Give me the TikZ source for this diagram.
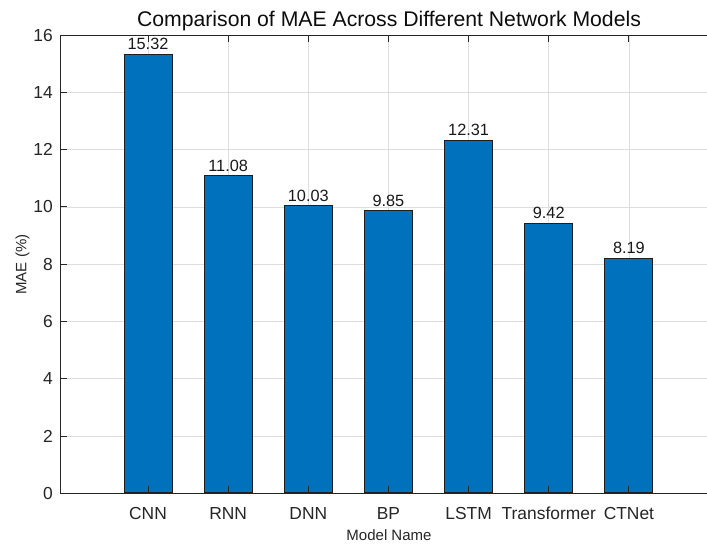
\documentclass[tikz,border=0pt]{standalone}
\usepackage{fontspec}
\setmainfont{Liberation Sans}
\definecolor{barblue}{HTML}{0072BD}
\definecolor{axisgray}{HTML}{262626}
\definecolor{gridgray}{HTML}{DEDEDE}
\tikzset{
  barbox/.style={draw=axisgray!80!black, line width=0.9pt, fill=barblue, minimum width=48pt, inner sep=0pt, anchor=south},
  gridline/.style={draw=gridgray, line width=0.8pt},
  axisline/.style={draw=axisgray, line width=0.9pt},
  ticklabel/.style={text=axisgray, font=\fontsize{17.4}{19}\selectfont, inner sep=0pt},
  valuelabel/.style={text=black!90, font=\fontsize{16.3}{18}\selectfont, inner sep=0pt, anchor=base},
  axlabel/.style={text=axisgray, font=\fontsize{15}{17}\selectfont, inner sep=0pt, anchor=base},
  titlelabel/.style={text=black!95, font=\fontsize{21.2}{23}\selectfont, inner sep=0pt, anchor=base}
}
\begin{document}
\begin{tikzpicture}[x=1pt, y=-1pt]
  \useasboundingbox (0,0) rectangle (707,544);
  \fill[white] (0,0) rectangle (707,544);
  % plot area: x from 60 to 707, y from 35 (16) to 493.3 (0)
  \def\yzero{493.3}
  \def\yunit{28.64}
  % horizontal grid
  \foreach \v in {2,4,...,14} {
    \draw[gridline] (60,\yzero-\v*\yunit) -- (707,\yzero-\v*\yunit);
  }
  % vertical grid at the categories
  \foreach \i in {0,...,6} {
    \draw[gridline] (148+80.15*\i,35) -- (148+80.15*\i,\yzero);
  }
  % bars, value labels and category labels
  \foreach \i/\nm/\v in {0/CNN/15.32, 1/RNN/11.08, 2/DNN/10.03, 3/BP/9.85, 4/LSTM/12.31, 5/Transformer/9.42, 6/CTNet/8.19} {
    \node[barbox, minimum height=\v*\yunit pt] (bar\i) at (148+80.15*\i,\yzero) {};
    \node[valuelabel] (val\i) at ([yshift=4pt]bar\i.north) {\v};
    \node[ticklabel, anchor=base] (cat\i) at (148+80.15*\i,519.3) {\nm};
    \draw[axisline] (148+80.15*\i,\yzero) -- (148+80.15*\i,\yzero-7);
    \draw[axisline] (148+80.15*\i,35) -- (148+80.15*\i,42);
  }
  % axes box (left, bottom, top)
  \draw[axisline] (707,35) -- (60,35) -- (60,\yzero) -- (707,\yzero);
  % y ticks and labels
  \foreach \v in {0,2,...,16} {
    \draw[axisline] (60,\yzero-\v*\yunit) -- (67,\yzero-\v*\yunit);
    \node[ticklabel, anchor=base east] (ytick\v) at (53,\yzero-\v*\yunit+6) {\v};
  }
  % axis titles
  \node[axlabel] (xlab) at (389,540) {Model Name};
  \node[axlabel, rotate=90] (ylab) at (26.5,264.5) {MAE (\%)};
  \node[titlelabel] (title) at (389,26) {Comparison of MAE Across Different Network Models};
\end{tikzpicture}
\end{document}
